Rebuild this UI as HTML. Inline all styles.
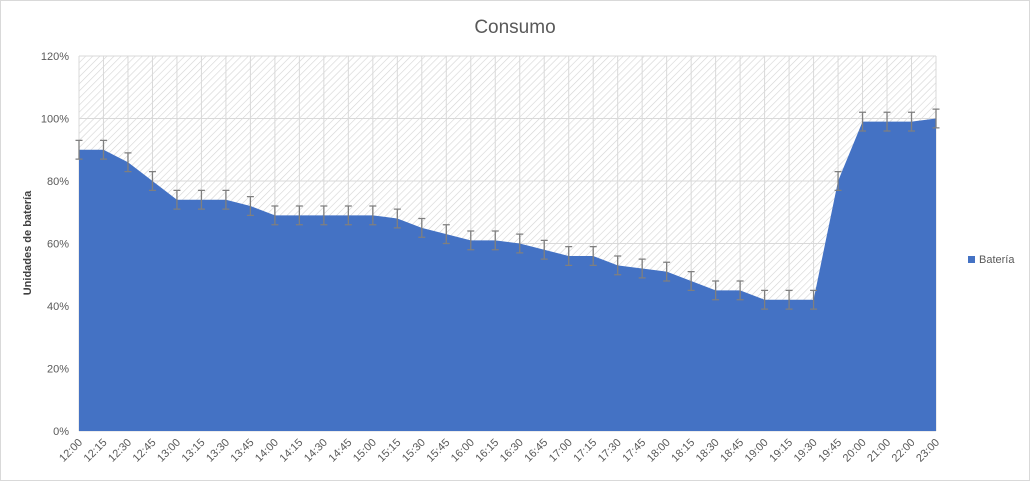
<!DOCTYPE html>
<html><head><meta charset="utf-8"><style>
body{margin:0;background:#fff;}
svg{display:block;font-family:"Liberation Sans",sans-serif;}
</style></head><body>
<svg id="c" width="1030" height="481">
<defs>
<pattern id="hatch" width="5" height="5" patternUnits="userSpaceOnUse" patternTransform="rotate(45)">
<rect width="5" height="5" fill="#fff"/>
<line x1="0" y1="0" x2="0" y2="5" stroke="#d4d4d4" stroke-width="1.2"/>
</pattern>
</defs>
<rect x="0.5" y="0.5" width="1029" height="480" fill="#fff" stroke="#d9d9d9"/>
<text x="515" y="33" text-anchor="middle" font-size="19" fill="#595959">Consumo</text>
<rect x="79" y="56" width="857" height="375" fill="url(#hatch)"/>
<g id="grid"></g>
<g id="area"></g>
<g id="err"></g>
<g id="yt"></g>
<g id="xt"></g>
<text transform="translate(31,243) rotate(-90)" text-anchor="middle" font-size="11" font-weight="bold" fill="#404040">Unidades de batería</text>
<rect x="968" y="256" width="7" height="7" fill="#4472c4"/>
<text x="979" y="263" font-size="11" fill="#595959">Batería</text>
</svg>
<script>
const categories=["12:00","12:15","12:30","12:45","13:00","13:15","13:30","13:45","14:00","14:15","14:30","14:45","15:00","15:15","15:30","15:45","16:00","16:15","16:30","16:45","17:00","17:15","17:30","17:45","18:00","18:15","18:30","18:45","19:00","19:15","19:30","19:45","20:00","21:00","22:00","23:00"];
const values=[90,90,86,80,74,74,74,72,69,69,69,69,69,68,65,63,61,61,60,58,56,56,53,52,51,48,45,45,42,42,42,80,99,99,99,100];
const errorMargin=[3,3,3,3,3,3,3,3,3,3,3,3,3,3,3,3,3,3,3,3,3,3,3,3,3,3,3,3,3,3,3,3,3,3,3,3];
const yTicks=[0,20,40,60,80,100,120];
const NS="http://www.w3.org/2000/svg";
const X0=79,X1=936,Y0=431,Y1=56;
const x=i=>X0+(X1-X0)*i/(categories.length-1);
const y=v=>Y0-(Y0-Y1)*v/120;
function mk(t,a,p){const e=document.createElementNS(NS,t);for(const k in a)e.setAttribute(k,a[k]);document.getElementById(p).appendChild(e);return e;}
yTicks.forEach(v=>{
 const l=mk("line",{x1:X0,x2:X1,y1:y(v),y2:y(v),stroke:"#d9d9d9","stroke-width":1},"grid");
 
 
 const t=mk("text",{x:X0-10,y:y(v)+4,"text-anchor":"end","font-size":11,fill:"#595959"},"yt");
 t.textContent=v+"%";
 
 
});
categories.forEach((c,i)=>{
 const l=mk("line",{x1:x(i),x2:x(i),y1:Y1,y2:Y0,stroke:"#d9d9d9","stroke-width":1},"grid");
 
 
 const t=mk("text",{transform:`translate(${x(i)+4},${Y0+12}) rotate(-45)`,"text-anchor":"end","font-size":11,fill:"#595959"},"xt");
 t.textContent=c;
 
 
});
let d=`M${x(0)},${Y0}`;
values.forEach((v,i)=>{d+=` L${x(i)},${y(v)}`;});
d+=` L${x(values.length-1)},${Y0} Z`;
const a=mk("path",{d:d,fill:"#4472c4"},"area");


values.forEach((v,i)=>{
 const xi=x(i),t=y(v+errorMargin[i]),b=y(v-errorMargin[i]);
 const g=mk("path",{d:`M${xi},${t} L${xi},${b} M${xi-3.5},${t} L${xi+3.5},${t} M${xi-3.5},${b} L${xi+3.5},${b}`,stroke:"#7f7f7f","stroke-width":1.3,fill:"none"},"err");
 
 
});
</script>
</body></html>
